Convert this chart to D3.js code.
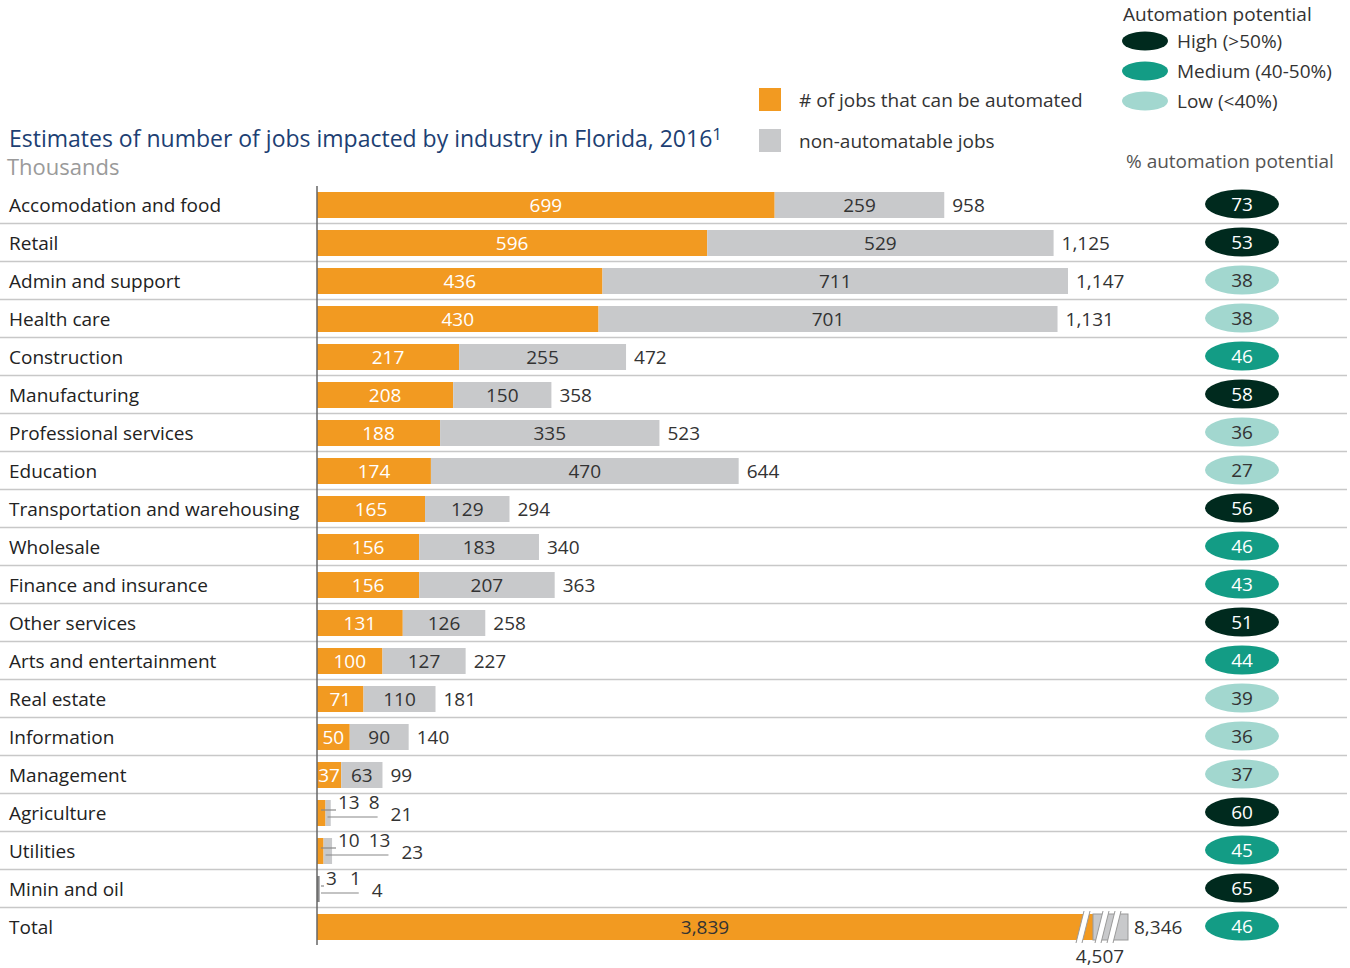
<!DOCTYPE html>
<html>
<head>
<meta charset="utf-8">
<script src="https://cdn.jsdelivr.net/npm/d3@7"></script>
<style>
  body { margin: 0; background: #fff; }
  svg text { font-family: "Open Sans", Lato, sans-serif; font-weight: 400; }
</style>
</head>
<body>
<div id="chart"></div>
<script>
// Data (thousands of jobs)
var categories = ["Accomodation and food", "Retail", "Admin and support", "Health care", "Construction",
  "Manufacturing", "Professional services", "Education", "Transportation and warehousing", "Wholesale",
  "Finance and insurance", "Other services", "Arts and entertainment", "Real estate", "Information",
  "Management", "Agriculture", "Utilities", "Minin and oil"];
var automated = [699, 596, 436, 430, 217, 208, 188, 174, 165, 156, 156, 131, 100, 71, 50, 37, 13, 10, 3];
var nonAutomated = [259, 529, 711, 701, 255, 150, 335, 470, 129, 183, 207, 126, 127, 110, 90, 63, 8, 13, 1];
var totals = [958, 1125, 1147, 1131, 472, 358, 523, 644, 294, 340, 363, 258, 227, 181, 140, 99, 21, 23, 4];
var potential = [73, 53, 38, 38, 46, 58, 36, 27, 56, 46, 43, 51, 44, 39, 36, 37, 60, 45, 65];

var totalLabel = "Total";
var totalAutomated = 3839;
var totalNonAutomated = 4507;
var totalJobs = 8346;
var totalPotential = 46;

var levelNames = ["High (>50%)", "Medium (40-50%)", "Low (<40%)"];
var levelColors = ["#002a1e", "#139c85", "#a2d7cf"];

var svgWidth = 1350;
var svgHeight = 968;

var orange = "#f29a21";
var grey = "#c8c9cb";
var fs = 19;

var svg = d3.select("#chart")
  .append("svg")
  .attr("width", svgWidth)
  .attr("height", svgHeight);

var x0 = 317;
var rowStep = 38;
var firstRow = 205;

var allRows = categories.concat([totalLabel]);

var yScale = d3.scalePoint()
  .domain(allRows)
  .range([firstRow, firstRow + rowStep * categories.length]);

var xScale = d3.scaleLinear()
  .domain([0, 1147])
  .range([x0, x0 + 751]);

// broken scale for the total row
var xTotal = d3.scaleLinear()
  .domain([0, totalAutomated, totalJobs])
  .range([x0, x0 + 776, x0 + 811]);

var barH = 26;

function levelColor(p) {
  if (p > 50) return levelColors[0];
  if (p >= 40) return levelColors[1];
  return levelColors[2];
}

// Title
var title = svg.append("text")
  .attr("x", 9).attr("y", 147)
  .attr("fill", "#1d3f73")
  .attr("font-size", 23);
title.append("tspan").text("Estimates of number of jobs impacted by industry in Florida, 2016");
title.append("tspan").attr("font-size", 17).attr("dy", -7).text("1");

svg.append("text")
  .attr("x", 7).attr("y", 175)
  .attr("fill", "#9a9a9a")
  .attr("font-size", 22)
  .text("Thousands");

// Legend: bars
var legBars = [["# of jobs that can be automated", orange], ["non-automatable jobs", grey]];
legBars.forEach(function(d, i) {
  svg.append("rect")
    .attr("x", 759).attr("y", 88 + i * 41)
    .attr("width", 22).attr("height", 23)
    .attr("fill", d[1]);
  svg.append("text")
    .attr("x", 799).attr("y", 107 + i * 41)
    .attr("font-size", fs)
    .attr("fill", "#333")
    .text(d[0]);
});

// Legend: automation potential
svg.append("text")
  .attr("x", 1123).attr("y", 21)
  .attr("font-size", fs)
  .attr("fill", "#333")
  .text("Automation potential");

levelNames.forEach(function(name, i) {
  var cy = 41 + i * 30;
  svg.append("ellipse")
    .attr("cx", 1145).attr("cy", cy)
    .attr("rx", 23).attr("ry", 9.5)
    .attr("fill", levelColors[i]);
  svg.append("text")
    .attr("x", 1177).attr("y", cy + 7)
    .attr("font-size", fs)
    .attr("fill", "#333")
    .text(name);
});

svg.append("text")
  .attr("x", 1126).attr("y", 168)
  .attr("font-size", fs)
  .attr("fill", "#555")
  .text("% automation potential");

// Row separators
allRows.forEach(function(c, i) {
  if (i === allRows.length - 1) return;
  svg.append("line")
    .attr("x1", 0).attr("x2", 1347)
    .attr("y1", yScale(c) + 18.5).attr("y2", yScale(c) + 18.5)
    .attr("stroke", "#c8c8c8")
    .attr("stroke-width", 1.5);
});

// Category labels
svg.selectAll(".cat")
  .data(allRows)
  .enter()
  .append("text")
  .attr("class", "cat")
  .attr("x", 9)
  .attr("y", d => yScale(d) + 7)
  .attr("font-size", fs)
  .attr("fill", "#222")
  .text(d => d);

var rows = categories.map(function(c, i) {
  return { cat: c, a: automated[i], n: nonAutomated[i], t: totals[i], p: potential[i] };
});

// Bars
var g = svg.selectAll(".row")
  .data(rows)
  .enter()
  .append("g")
  .attr("class", "row");

g.append("rect")
  .attr("x", x0)
  .attr("y", d => yScale(d.cat) - barH / 2)
  .attr("width", d => xScale(d.a) - x0)
  .attr("height", barH)
  .attr("fill", orange);

g.append("rect")
  .attr("x", d => xScale(d.a))
  .attr("y", d => yScale(d.cat) - barH / 2)
  .attr("width", d => xScale(d.a + d.n) - xScale(d.a))
  .attr("height", barH)
  .attr("fill", grey);

var minInside = 15;

g.each(function(d) {
  var row = d3.select(this);
  var cy = yScale(d.cat);
  var wa = xScale(d.a) - x0;
  var wn = xScale(d.a + d.n) - xScale(d.a);
  if (wa >= minInside) {
    row.append("text")
      .attr("x", x0 + wa / 2).attr("y", cy + 7)
      .attr("text-anchor", "middle")
      .attr("font-size", fs)
      .attr("fill", "#fff")
      .text(d.a);
    row.append("text")
      .attr("x", xScale(d.a) + wn / 2).attr("y", cy + 7)
      .attr("text-anchor", "middle")
      .attr("font-size", fs)
      .attr("fill", "#333")
      .text(d.n);
    row.append("text")
      .attr("x", xScale(d.a + d.n) + 8).attr("y", cy + 7)
      .attr("font-size", fs)
      .attr("fill", "#333")
      .text(d3.format(",")(d.t));
  } else {
    // small values: labels outside with leader lines
    var ax = d.a < 5 ? x0 + 9 : x0 + 21;
    var ta = row.append("text")
      .attr("x", ax).attr("y", cy - 4)
      .attr("font-size", fs)
      .attr("fill", "#333")
      .text(d.a);
    var aw = ta.node().getComputedTextLength();
    var nx = ax + aw + (d.a < 5 ? 13 : 9);
    var tn = row.append("text")
      .attr("x", nx).attr("y", cy - 4)
      .attr("font-size", fs)
      .attr("fill", "#333")
      .text(d.n);
    var nw = tn.node().getComputedTextLength();
    row.append("line")
      .attr("x1", x0 + 4).attr("x2", ax - 2)
      .attr("y1", cy - 3).attr("y2", cy - 3)
      .attr("stroke", "#888").attr("stroke-width", 1.2);
    row.append("line")
      .attr("x1", xScale(d.a) + 2).attr("x2", nx + nw - 2)
      .attr("y1", cy + 4).attr("y2", cy + 4)
      .attr("stroke", "#888").attr("stroke-width", 1.2);
    row.append("text")
      .attr("x", nx + nw + 11).attr("y", cy + 8)
      .attr("font-size", fs)
      .attr("fill", "#333")
      .text(d3.format(",")(d.t));
    if (d.a < 5) {
      row.append("rect")
        .attr("x", x0).attr("y", cy - barH / 2)
        .attr("width", 2.5).attr("height", barH)
        .attr("fill", "#888");
    }
  }
});

// Total row
var ty = yScale(totalLabel);
svg.append("rect")
  .attr("x", x0).attr("y", ty - barH / 2)
  .attr("width", xTotal(totalAutomated) - x0)
  .attr("height", barH)
  .attr("fill", orange);
svg.append("rect")
  .attr("x", xTotal(totalAutomated)).attr("y", ty - barH / 2)
  .attr("width", xTotal(totalJobs) - xTotal(totalAutomated))
  .attr("height", barH)
  .attr("fill", grey)
  .attr("stroke", "#999")
  .attr("stroke-width", 1);

// break marks
function breakMark(bx) {
  var top = ty - barH / 2 - 3, bot = ty + barH / 2 + 3;
  svg.append("path")
    .attr("d", "M" + (bx - 2) + "," + bot + " L" + (bx + 6) + "," + top +
      " L" + (bx + 12) + "," + top + " L" + (bx + 4) + "," + bot + " Z")
    .attr("fill", "#fff");
  [bx - 2, bx + 4].forEach(function(sx) {
    svg.append("line")
      .attr("x1", sx).attr("y1", bot)
      .attr("x2", sx + 8).attr("y2", top)
      .attr("stroke", "#999").attr("stroke-width", 1);
  });
}
breakMark(xTotal(totalAutomated) - 15);
breakMark(xTotal(totalAutomated) + 4);
breakMark(xTotal(totalAutomated) + 16);

svg.append("text")
  .attr("x", (x0 + xTotal(totalAutomated)) / 2).attr("y", ty + 7)
  .attr("text-anchor", "middle")
  .attr("font-size", fs)
  .attr("fill", "#333")
  .text(d3.format(",")(totalAutomated));
svg.append("text")
  .attr("x", xTotal(totalJobs) + 6).attr("y", ty + 7)
  .attr("font-size", fs)
  .attr("fill", "#333")
  .text(d3.format(",")(totalJobs));
svg.append("text")
  .attr("x", xTotal(totalAutomated) + 7).attr("y", ty + 36)
  .attr("text-anchor", "middle")
  .attr("font-size", fs)
  .attr("fill", "#333")
  .text(d3.format(",")(totalNonAutomated));

// Vertical axis line
svg.append("line")
  .attr("x1", x0).attr("x2", x0)
  .attr("y1", firstRow - 19).attr("y2", ty + 18)
  .attr("stroke", "#666")
  .attr("stroke-width", 1.5);

// Automation potential ellipses
var pots = potential.concat([totalPotential]);
allRows.forEach(function(c, i) {
  var p = pots[i];
  var cy = yScale(c);
  svg.append("ellipse")
    .attr("cx", 1242).attr("cy", cy - 1)
    .attr("rx", 37).attr("ry", 14.5)
    .attr("fill", levelColor(p));
  svg.append("text")
    .attr("x", 1242).attr("y", cy + 6)
    .attr("text-anchor", "middle")
    .attr("font-size", fs)
    .attr("fill", p >= 40 ? "#fff" : "#333")
    .text(p);
});
</script>
</body>
</html>
